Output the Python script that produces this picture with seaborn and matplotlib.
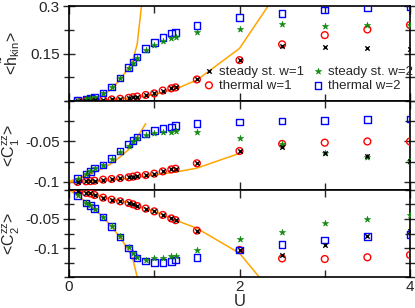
import numpy as np
import pandas as pd
import matplotlib
matplotlib.use("Agg")
import matplotlib.pyplot as plt
from matplotlib.ticker import MultipleLocator
import seaborn as sns

# ---------------- data ----------------
U = [0.1, 0.2, 0.25, 0.3, 0.4, 0.5, 0.6, 0.7, 0.75, 0.8, 0.9, 1.0, 1.1, 1.2, 1.25,
     1.5, 2.0, 2.5, 3.0, 3.5, 4.0]

# panel 1: <h_kin>
hkin_therm_w2 = [0.001, 0.005, 0.008, 0.012, 0.026, 0.044, 0.073, 0.106, 0.123, 0.139, 0.166,
                 0.185, 0.201, 0.214, 0.217, 0.239, 0.264, 0.277, 0.287, 0.294, 0.298]
hkin_steady_w2 = [0.001, 0.005, 0.008, 0.012, 0.026, 0.044, 0.072, 0.104, 0.120, 0.135, 0.161,
                  0.177, 0.189, 0.198, 0.203, 0.217, 0.228, 0.243, 0.237, 0.239, 0.240]
hkin_therm_w1 = [0.0002, 0.001, 0.0015, 0.002, 0.004, 0.005, 0.007, 0.010, 0.012, 0.014, 0.019,
                 0.024, 0.033, 0.040, 0.043, 0.068, 0.129, 0.179, 0.208, 0.226, 0.240]
hkin_steady_w1 = [0.0002, 0.001, 0.0015, 0.002, 0.004, 0.005, 0.007, 0.010, 0.012, 0.014, 0.019,
                  0.024, 0.033, 0.040, 0.043, 0.068, 0.129, 0.174, 0.171, 0.166, 0.164]

# panel 2: <C1^zz>
c1_therm_w2 = [-0.096, -0.090, -0.087, -0.083, -0.079, -0.0713, -0.062, -0.053, -0.0486, -0.0445,
               -0.040, -0.0367, -0.034, -0.032, -0.0305, -0.028, -0.026, -0.0247, -0.024, -0.023, -0.022]
c1_steady_w2 = [-0.096, -0.090, -0.087, -0.083, -0.079, -0.072, -0.063, -0.055, -0.050, -0.046,
                -0.042, -0.040, -0.0387, -0.038, -0.0375, -0.0387, -0.046, -0.053, -0.064, -0.069, -0.074]
c1_therm_w1 = [-0.100, -0.0993, -0.099, -0.0985, -0.0972, -0.0964, -0.0952, -0.0943, -0.0935, -0.0923,
               -0.0915, -0.0898, -0.087, -0.0845, -0.0837, -0.077, -0.0618, -0.053, -0.0515, -0.050, -0.050]
c1_steady_w1 = [-0.100, -0.0993, -0.099, -0.0985, -0.0972, -0.0964, -0.0952, -0.0943, -0.0935, -0.0923,
                -0.0915, -0.0898, -0.087, -0.0845, -0.0837, -0.077, -0.0618, -0.0565, -0.064, -0.068, -0.074]

# panel 3: <C2^zz>
c2_therm_w2 = [-0.0092, -0.0224, -0.0264, -0.032, -0.0466, -0.0626, -0.081, -0.100, -0.111, -0.117,
               -0.1224, -0.1247, -0.1247, -0.123, -0.121, -0.116, -0.1034, -0.0937, -0.086, -0.080, -0.0764]
c2_steady_w2 = [-0.0092, -0.0224, -0.0264, -0.032, -0.0466, -0.0626, -0.080, -0.098, -0.108, -0.115,
                -0.120, -0.118, -0.1167, -0.114, -0.113, -0.1034, -0.085, -0.0724, -0.0563, -0.0494, -0.043]
c2_therm_w1 = [-0.0017, -0.005, -0.006, -0.0086, -0.0132, -0.0167, -0.0195, -0.0224, -0.0247, -0.0276,
               -0.032, -0.0368, -0.043, -0.049, -0.052, -0.070, -0.1034, -0.118, -0.119, -0.116, -0.112]
c2_steady_w1 = [-0.0017, -0.005, -0.006, -0.0086, -0.0132, -0.0167, -0.0195, -0.0224, -0.0247, -0.0276,
                -0.032, -0.0368, -0.043, -0.049, -0.052, -0.070, -0.1034, -0.112, -0.0948, -0.080, -0.070]

# orange reference curves
U_line_w2 = [0.0, 0.1, 0.2, 0.3, 0.4, 0.5, 0.6, 0.7, 0.75, 0.8, 0.9]
U_line_w1 = [0.0, 0.1, 0.2, 0.3, 0.4, 0.5, 0.6, 0.7, 0.8, 0.9, 1.0, 1.25, 1.5, 2.0, 2.5]
hkin_line_w2 = [0.0, 0.001, 0.004, 0.009, 0.019, 0.038, 0.068, 0.105, 0.13, 0.18, 0.42]
hkin_line_w1 = [0.0, 0.0002, 0.001, 0.002, 0.003, 0.005, 0.007, 0.009, 0.012, 0.016, 0.021,
                0.038, 0.066, 0.166, 0.366]
c1_line_w2 = [-0.0993, -0.096, -0.092, -0.088, -0.083, -0.077, -0.069, -0.060, -0.054, -0.045, -0.028]
c1_line_w1 = [-0.100, -0.100, -0.0995, -0.099, -0.0983, -0.0975, -0.0965, -0.0955, -0.094, -0.093,
              -0.0915, -0.0878, -0.083, -0.0647, np.nan]
c2_line_w2 = [0.0, -0.009, -0.021, -0.033, -0.047, -0.063, -0.082, -0.104, -0.120, -0.15, -0.21]
c2_line_w1 = [0.0, -0.0015, -0.004, -0.008, -0.012, -0.016, -0.019, -0.022, -0.027, -0.032, -0.037,
              -0.052, -0.066, -0.109, -0.198]

labels = ["steady st. w=1", "thermal w=1", "steady st. w=2", "thermal w=2"]
ylabels = ["<$\\tilde{\\mathrm{h}}_{\\mathrm{kin}}$>",
           "<$\\mathrm{C}_1^{\\mathrm{zz}}$>",
           "<$\\mathrm{C}_2^{\\mathrm{zz}}$>"]

# ---------------- style ----------------
sns.set_theme(style="ticks")
plt.rcParams['font.family'] = ['Liberation Sans', 'DejaVu Sans']
plt.rcParams['mathtext.fontset'] = 'custom'
plt.rcParams['mathtext.rm'] = 'Liberation Sans'
plt.rcParams['mathtext.it'] = 'Liberation Sans:italic'

ORANGE = '#ffa500'
RED = '#ff0000'
BLUE = '#0000ff'
GREEN = '#108a10'

fig = plt.figure(figsize=(4.15, 3.08), dpi=100)
gs = fig.add_gridspec(3, 1, left=69/415, right=410/415, top=1-6/308, bottom=1-277/308,
                      hspace=0, height_ratios=[95, 89, 87])
axes = [fig.add_subplot(gs[i]) for i in range(3)]

panels = [
    (hkin_steady_w1, hkin_therm_w1, hkin_steady_w2, hkin_therm_w2, hkin_line_w1, hkin_line_w2),
    (c1_steady_w1, c1_therm_w1, c1_steady_w2, c1_therm_w2, c1_line_w1, c1_line_w2),
    (c2_steady_w1, c2_therm_w1, c2_steady_w2, c2_therm_w2, c2_line_w1, c2_line_w2),
]
ylims = [(0.0, 0.3), (-0.11, 0.0), (-0.15, 0.0)]
major = [0.15, 0.05, 0.05]
minor = [0.075, 0.025, 0.025]

for i, ax in enumerate(axes):
    s_w1, t_w1, s_w2, t_w2, l_w1, l_w2 = panels[i]
    sns.lineplot(x=U_line_w1, y=l_w1, ax=ax, color=ORANGE, lw=1.1, sort=False, estimator=None)
    sns.lineplot(x=U_line_w2, y=l_w2, ax=ax, color=ORANGE, lw=1.1, sort=False, estimator=None)
    sns.scatterplot(x=U, y=t_w1, ax=ax, marker='o', s=24, facecolor='none', edgecolor=RED,
                    linewidth=1.0, label=labels[1], zorder=3)
    sns.scatterplot(x=U, y=t_w2, ax=ax, marker='s', s=22, facecolor='none', edgecolor=BLUE,
                    linewidth=1.0, label=labels[3], zorder=3)
    sns.scatterplot(x=U, y=s_w2, ax=ax, marker='*', s=22, color=GREEN, edgecolor=GREEN,
                    linewidth=0.4, label=labels[2], zorder=4)
    sns.scatterplot(x=U, y=s_w1, ax=ax, marker='x', s=10, color='black',
                    linewidth=1.0, label=labels[0], zorder=5)
    ax.set_xlim(0, 4)
    ax.set_ylim(*ylims[i])
    ax.xaxis.set_major_locator(MultipleLocator(2))
    ax.xaxis.set_minor_locator(MultipleLocator(1))
    ax.yaxis.set_major_locator(MultipleLocator(major[i]))
    ax.yaxis.set_minor_locator(MultipleLocator(minor[i]))
    ax.tick_params(axis='x', which='both', direction='in', top=True, bottom=True,
                   labelsize=11, width=1.0, pad=2)
    ax.tick_params(axis='x', which='major', length=6)
    ax.tick_params(axis='x', which='minor', length=5)
    ax.tick_params(axis='y', which='both', direction='inout', left=True, right=True,
                   labelsize=11, width=1.0, pad=2)
    ax.tick_params(axis='y', which='major', length=9)
    ax.tick_params(axis='y', which='minor', length=7)
    for sp in ax.spines.values():
        sp.set_linewidth(1.2)
        sp.set_color('black')
    ax.set_ylabel(ylabels[i], fontsize=11.5, labelpad=0)
    ax.yaxis.set_label_coords(-0.138, 0.5)
    if i < 2:
        ax.tick_params(axis='x', labelbottom=False)
        ax.set_xlabel('')
    if ax.get_legend() is not None:
        ax.get_legend().remove()

# y tick labels as in reference
axes[0].set_yticks([0.15, 0.3])
axes[0].set_yticklabels(['0.15', '0.3'])
axes[1].set_yticks([-0.05, -0.1])
axes[1].set_yticklabels(['-0.05', '-0.1'])
axes[2].set_yticks([-0.05, -0.1])
axes[2].set_yticklabels(['-0.05', '-0.1'])

axes[2].set_xticks([0, 2, 4])
axes[2].set_xticklabels(['0', '2', '4'])
axes[2].set_xlabel('U', fontsize=12, labelpad=0)

# legend in top panel
h, l = axes[0].get_legend_handles_labels()
order = [l.index(lab) for lab in labels]
axes[0].legend([h[k] for k in order], [l[k] for k in order], ncol=2, loc='lower right',
               bbox_to_anchor=(1.035, -0.0), frameon=False, fontsize=9.5, handletextpad=0.15,
               columnspacing=0.45, handlelength=1.2, labelspacing=0.12, borderpad=0.2)

fig.savefig('out.png', dpi=100)
